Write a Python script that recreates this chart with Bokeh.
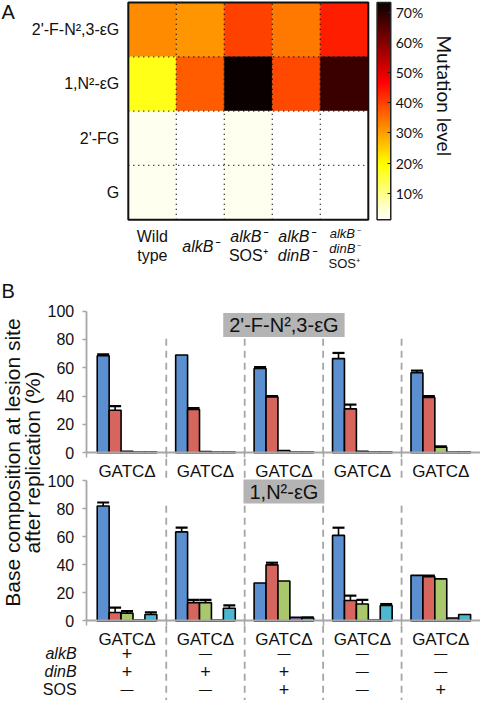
import numpy as np
from bokeh.plotting import figure
from bokeh.models import (Range1d, LinearAxis, FixedTicker, LinearColorMapper,
                          ColumnDataSource, Whisker, TeeHead)
from bokeh.core.properties import value
from bokeh.transform import transform
from bokeh.embed import file_html
from bokeh.resources import INLINE

# ---------------- data: panel A (heat map) ----------------
strains = ["Wild type", "alkB⁻", "alkB⁻ SOS⁺", "alkB⁻ dinB⁻", "alkB⁻ dinB⁻ SOS⁺"]
strain_lines = [["Wild", "type"], ["alkB⁻"], ["alkB⁻", "SOS⁺"],
                ["alkB⁻", "dinB⁻"], ["alkB⁻", "dinB⁻", "SOS⁺"]]
lesions = ["2'-F-N²,3-εG", "1,N²-εG", "2'-FG", "G"]          # top to bottom
mut_2f_eg = [32.0, 31.0, 40.0, 34.0, 44.0]
mut_1n2_eg = [18.0, 37.0, 73.3, 39.0, 68.0]
mut_2fg = [2.5, 1.2, 2.5, 1.2, 1.2]
mut_g = [2.5, 1.2, 2.5, 1.2, 1.2]
colorbar_ticks = [10, 20, 30, 40, 50, 60, 70]
colorbar_title = "Mutation level"

# ---------------- data: panel B (base composition, %) ----------------
bases = ["G", "A", "T", "C", "Δ"]
panel_b_lesions = ["2'-F-N²,3-εG", "1,N²-εG"]
top_G = [68.5, 69.0, 59.5, 66.5, 56.5]
top_G_err = [1.0, 0.0, 1.0, 4.0, 1.5]
top_A = [30.0, 30.5, 39.5, 31.0, 39.0]
top_A_err = [3.0, 1.0, 0.5, 3.0, 1.0]
top_T = [1.0, 0.8, 1.5, 1.0, 4.0]
top_T_err = [0.0, 0.0, 0.0, 0.0, 0.5]
top_C = [0.5, 0.5, 0.5, 0.5, 0.5]
top_C_err = [0.0, 0.0, 0.0, 0.0, 0.0]
top_D = [0.5, 0.5, 0.5, 0.5, 0.5]
top_D_err = [0.0, 0.0, 0.0, 0.0, 0.0]

bot_G = [82.0, 63.5, 27.0, 61.0, 32.5]
bot_G_err = [2.5, 3.0, 0.0, 5.5, 0.0]
bot_A = [6.0, 13.0, 40.0, 14.5, 31.5]
bot_A_err = [3.5, 2.0, 1.5, 3.5, 0.8]
bot_T = [5.5, 13.0, 28.5, 12.0, 30.0]
bot_T_err = [1.5, 2.0, 0.0, 3.0, 0.0]
bot_C = [0.5, 0.5, 2.5, 0.5, 2.0]
bot_C_err = [0.0, 0.0, 0.0, 0.0, 0.0]
bot_D = [4.5, 9.0, 2.0, 11.0, 4.5]
bot_D_err = [1.5, 2.0, 0.5, 1.0, 0.0]

genotype_rows = ["alkB", "dinB", "SOS"]
alkB_status = ["+", "—", "—", "—", "—"]
dinB_status = ["+", "+", "+", "—", "—"]
SOS_status = ["—", "—", "+", "—", "+"]
y_title = ["Base composition at lesion site", "after replication (%)"]

# ---------------- styles ----------------
base_colors = ["#5B8FD0", "#D6655E", "#A9C86C", "#8B71B0", "#4DB6D0"]
SANS = "Liberation Sans"
CB_FONT = "Lato"
GRAY = "#a6a6a6"
GENES = ("alkB", "dinB")

# ---------------- page geometry ----------------
W, H = 480, 700
SX = W / 492.0
SY = H / 712.0


def gx(x):
    return (x - 2.0) * SX


def gy(y):
    return (y - 4.0) * SY


def xrange_(d0, d1, p0, p1):
    s = (p1 - p0) / (d1 - d0)
    start = d0 - p0 / s
    return Range1d(start, start + W / s)


def yrange_(d0, d1, p0, p1):
    q0, q1 = H - p0, H - p1
    s = (q1 - q0) / (d1 - d0)
    start = d0 - q0 / s
    return Range1d(start, start + H / s)


def is_gene(txt):
    return txt.rstrip("⁻⁺") in GENES


ncol, nrow = len(strains), len(lesions)
ngroups = len(top_G)
heat_rows = [mut_2f_eg, mut_1n2_eg, mut_2fg, mut_g]
all_vals = [v for r in heat_rows for v in r]
lo, hi = min(all_vals), max(all_vals)

p = figure(width=W, height=H, x_range=Range1d(0, W), y_range=Range1d(H, 0),
           x_axis_type=None, y_axis_type=None, toolbar_location=None,
           output_backend="svg", min_border=0, outline_line_color=None)

p.extra_x_ranges = {
    "hx": xrange_(-0.5, ncol - 0.5, gx(133), gx(379)),
    "cbx": xrange_(0, 1, gx(388), gx(402)),
    "bx": xrange_(1, ngroups, gx(131.7), gx(453.3)),
}
p.extra_y_ranges = {
    "hy": yrange_(-0.5, nrow - 0.5, gy(227), gy(6)),
    "cby": yrange_(lo, hi, gy(227), gy(6)),
    "ty": yrange_(0, 100, gy(464), gy(320)),
    "by": yrange_(0, 100, gy(635), gy(492.5)),
}

# hot (reversed) palette
t = np.linspace(0, 1, 256)
r = np.clip(0.0416 + t / 0.365 * (1 - 0.0416), 0, 1)
g = np.clip((t - 0.365) / 0.381, 0, 1)
b = np.clip((t - 0.746) / 0.254, 0, 1)
hot = ["#%02x%02x%02x" % (int(round(255 * a)), int(round(255 * c)), int(round(255 * d)))
       for a, c, d in zip(r, g, b)]
hot_r = hot[::-1]
mapper = LinearColorMapper(palette=hot_r, low=lo, high=hi)

# ---------------- panel A ----------------
hxs, hys, hvs = [], [], []
for ri, row in enumerate(heat_rows):
    for ci, v in enumerate(row):
        hxs.append(ci)
        hys.append(nrow - 1 - ri)
        hvs.append(v)
hsrc = ColumnDataSource(dict(x=hxs, y=hys, v=hvs))
p.rect(x="x", y="y", width=1, height=1, source=hsrc,
       fill_color=transform("v", mapper), line_color=transform("v", mapper),
       line_width=0.5, x_range_name="hx", y_range_name="hy")

vb = [i + 0.5 for i in range(ncol - 1)]
p.segment(x0=vb, y0=[-0.5] * len(vb), x1=vb, y1=[nrow - 0.5] * len(vb),
          line_color="black", line_width=1.3, line_dash="1 4",
          x_range_name="hx", y_range_name="hy")
hb = [i + 0.5 for i in range(nrow - 1)]
p.segment(x0=[-0.5] * len(hb), y0=hb, x1=[ncol - 0.5] * len(hb), y1=hb,
          line_color="black", line_width=1.3, line_dash="1 4",
          x_range_name="hx", y_range_name="hy")
p.quad(left=[-0.5], right=[ncol - 0.5], bottom=[-0.5], top=[nrow - 0.5],
       fill_color=None, line_color="#111111", line_width=2,
       x_range_name="hx", y_range_name="hy")

hax = LinearAxis(x_range_name="hx", y_range_name="hy", fixed_location=-0.5,
                 ticker=FixedTicker(ticks=list(range(nrow))),
                 major_label_overrides={nrow - 1 - i: lab for i, lab in enumerate(lesions)},
                 axis_line_color=None, major_tick_line_color=None,
                 minor_tick_line_color=None, major_tick_out=0, major_tick_in=0,
                 major_label_standoff=9, major_label_text_font=SANS,
                 major_label_text_font_size="16px", major_label_text_color="#111111")
p.add_layout(hax, "left")

line_centers = {1: [254], 2: [244, 263], 3: [241.5, 256.5, 271]}
line_sizes = {1: "16px", 2: "16px", 3: "13px"}
lx, ly, lt, lst, lsz = [], [], [], [], []
for ci, lines in enumerate(strain_lines):
    n = len(lines)
    for li, txt in enumerate(lines):
        lx.append(ci)
        ly.append(gy(line_centers[n][li]))
        lt.append(txt)
        lst.append("italic" if is_gene(txt) else "normal")
        lsz.append(line_sizes[n])
lsrc = ColumnDataSource(dict(x=lx, y=ly, text=lt, style=lst, size=lsz))
p.text(x="x", y="y", text="text", source=lsrc, text_font_style="style",
       text_font_size="size", text_font=value(SANS), text_color="#111111",
       text_align="center", text_baseline="middle", x_range_name="hx")

# colour bar
grad = np.linspace(lo, hi, 256).reshape(-1, 1)
p.image(image=[grad], x=0, y=lo, dw=1, dh=hi - lo, color_mapper=mapper,
        x_range_name="cbx", y_range_name="cby")
p.quad(left=[0], right=[1], bottom=[lo], top=[hi], fill_color=None,
       line_color="#222222", line_width=1.5, x_range_name="cbx", y_range_name="cby")
cax = LinearAxis(x_range_name="cbx", y_range_name="cby", fixed_location=1,
                 ticker=FixedTicker(ticks=colorbar_ticks),
                 major_label_overrides={v: "%d%%" % v for v in colorbar_ticks},
                 axis_line_color=None, major_tick_in=3, major_tick_out=0,
                 major_tick_line_color="#222222", minor_tick_line_color=None,
                 major_label_standoff=5, major_label_text_font=CB_FONT,
                 major_label_text_font_size="14px", major_label_text_color="#111111")
p.add_layout(cax, "right")
p.text(x=[gx(457)], y=[gy(101)], text=[colorbar_title], angle=-np.pi / 2,
       text_font=value(CB_FONT), text_font_size="19px", text_color="#111111",
       text_align="center", text_baseline="middle")

# panel letters
p.text(x=[1, 1], y=[11.5, gy(299)], text=["A", "B"],
       text_font=value(SANS), text_font_size="20px", text_color="#111111",
       text_align="left", text_baseline="middle")

# ---------------- panel B ----------------
bw = 0.152
panels = [
    ("ty", [top_G, top_A, top_T, top_C, top_D],
     [top_G_err, top_A_err, top_T_err, top_C_err, top_D_err]),
    ("by", [bot_G, bot_A, bot_T, bot_C, bot_D],
     [bot_G_err, bot_A_err, bot_T_err, bot_C_err, bot_D_err]),
]
ax_lo, ax_hi = 0.48, ngroups + 0.52
for yname, series, errs in panels:
    xs, tops, cols = [], [], []
    wx, wlo, whi = [], [], []
    for bi, (vals, ev) in enumerate(zip(series, errs)):
        for gi, (v, e) in enumerate(zip(vals, ev)):
            xx = (gi + 1) + (bi - 2) * bw
            xs.append(xx)
            tops.append(v)
            cols.append(base_colors[bi])
            if e > 0:
                wx.append(xx)
                wlo.append(v)
                whi.append(v + e)
    src = ColumnDataSource(dict(x=xs, top=tops, color=cols))
    p.vbar(x="x", top="top", bottom=0, width=bw, source=src, fill_color="color",
           line_color="black", line_width=1.6, x_range_name="bx", y_range_name=yname)
    wsrc = ColumnDataSource(dict(x=wx, lower=wlo, upper=whi))
    p.add_layout(Whisker(source=wsrc, base="x", lower="lower", upper="upper",
                         dimension="height", line_width=1.6, line_color="black",
                         upper_head=TeeHead(size=12, line_width=2.2, line_color="black"),
                         lower_head=None, x_range_name="bx", y_range_name=yname))

    yax = LinearAxis(x_range_name="bx", y_range_name=yname, fixed_location=ax_lo,
                     bounds=(0, 100), ticker=FixedTicker(ticks=[0, 20, 40, 60, 80, 100]),
                     axis_line_color=GRAY, axis_line_width=1.8,
                     major_tick_line_color=GRAY, major_tick_line_width=1.5,
                     major_tick_out=4, major_tick_in=0, minor_tick_line_color=None,
                     major_label_standoff=8, major_label_text_font=SANS,
                     major_label_text_font_size="16px", major_label_text_color="#111111")
    p.add_layout(yax, "left")
    xax = LinearAxis(x_range_name="bx", y_range_name=yname, fixed_location=0,
                     bounds=(ax_lo, ax_hi),
                     ticker=FixedTicker(ticks=list(range(1, ngroups + 1)),
                                        minor_ticks=[ax_lo] + [i + 0.5 for i in range(1, ngroups)] + [ax_hi]),
                     major_label_overrides={i: "".join(bases) for i in range(1, ngroups + 1)},
                     axis_line_color=GRAY, axis_line_width=1.8,
                     major_tick_line_color=None, major_tick_out=0, major_tick_in=0,
                     minor_tick_line_color=GRAY, minor_tick_line_width=1.5,
                     minor_tick_out=5, minor_tick_in=0,
                     major_label_standoff=4, major_label_text_font=SANS,
                     major_label_text_font_size="17px", major_label_text_color="#111111")
    p.add_layout(xax, "below")

# separators between strains
sep = [i + 0.5 for i in range(1, ngroups)]
p.segment(x0=sep, y0=[gy(348)] * len(sep), x1=sep, y1=[gy(492)] * len(sep),
          line_color=GRAY, line_width=1.8, line_dash="7 5", x_range_name="bx")
p.segment(x0=sep, y0=[gy(518)] * len(sep), x1=sep, y1=[H] * len(sep),
          line_color=GRAY, line_width=1.8, line_dash="7 5", x_range_name="bx")

# lesion labels in grey boxes
mid = (ngroups + 1) / 2
p.text(x=[mid, mid], y=[gy(334), gy(503.5)], text=panel_b_lesions,
       text_font=value(SANS), text_font_size="20px", text_color="#111111",
       text_align="center", text_baseline="middle",
       background_fill_color="#b4b4b4",
       padding=dict(left=6, right=6, top=1, bottom=1),
       x_range_name="bx")

# y title
p.text(x=[12, gx(35)], y=[gy(474), gy(474)], text=y_title, angle=np.pi / 2,
       text_font=value(SANS), text_font_size="21px", text_color="#111111",
       text_align="center", text_baseline="middle")

# genotype table
row_y = [gy(668), gy(687), gy(704.5)]
p.text(x=[gx(80)] * 3, y=row_y, text=genotype_rows,
       text_font=value(SANS), text_font_size="16px", text_color="#111111",
       text_font_style=["italic" if is_gene(s) else "normal" for s in genotype_rows],
       text_align="right", text_baseline="middle")
tx, ty_, tt, tsz = [], [], [], []
for yy, status in zip(row_y, [alkB_status, dinB_status, SOS_status]):
    for gi, s in enumerate(status):
        tx.append(gi + 1)
        ty_.append(yy)
        tt.append(s)
        tsz.append("18px" if s == "+" else "13px")
tsrc = ColumnDataSource(dict(x=tx, y=ty_, text=tt, size=tsz))
p.text(x="x", y="y", text="text", source=tsrc, text_font=value(SANS),
       text_font_size="size", text_color="#111111", text_align="center",
       text_baseline="middle", x_range_name="bx")

open("out.html", "w").write(file_html(p, INLINE))
